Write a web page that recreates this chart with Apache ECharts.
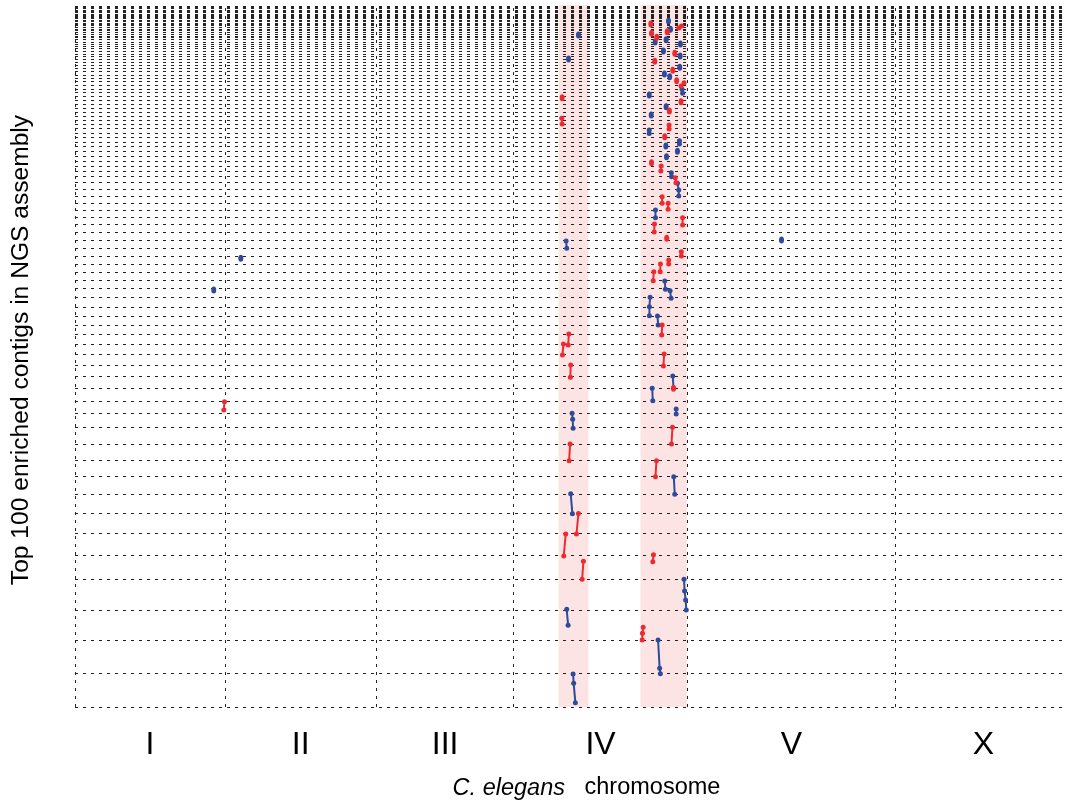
<!DOCTYPE html>
<html>
<head>
<meta charset="utf-8">
<script src="https://cdn.jsdelivr.net/npm/echarts@6/dist/echarts.min.js"></script>
<style>html,body{margin:0;padding:0;background:#fff}#chart{width:1065px;height:807px}</style>
</head>
<body>
<div id="chart"></div>
<script>
// Chromosomes (names and lengths in Mb)
const chromNames = ['I', 'II', 'III', 'IV', 'V', 'X'];
const chromLengthsMb = [15.07, 15.28, 13.78, 17.49, 20.92, 17.72];
// Cumulative contig boundaries (kb) for the 100 contigs, bottom to top
const contigBoundariesKb = [0, 34, 67, 97, 128, 152, 173.3, 193.7, 212.7, 230.3, 247, 263, 279.3, 293.7, 306, 318.3, 330.3, 341.7, 352.7, 362.5,
  372.3, 381.7, 391, 400, 409.3, 418.7, 427, 435, 442.3, 451, 458.3, 466.3, 474.3, 482.3, 489.3, 496.7, 503.7, 511, 518, 524.3,
  531, 536, 541, 546, 551, 555.7, 560.3, 565, 569.5, 574, 578.3, 582.5, 586.5, 590.3, 594.3, 598.3, 602.5, 606.5, 610.5, 614.3,
  618, 621.7, 625.3, 628.8, 632.2, 635.5, 638.7, 641.8, 644.8, 647.7, 650.5, 653.2, 655.8, 658.3, 660.7, 663, 665.2, 667.3, 669.3, 671.2,
  673, 674.8, 676.5, 678.2, 679.8, 681.3, 682.8, 684.2, 685.6, 687, 688.3, 689.6, 690.8, 692, 693.2, 694.4, 695.6, 697, 698.4, 699.8, 701.2];
// Highlighted genomic regions (Mb)
const highlightRegionsMb = [[48.64, 51.66], [56.89, 61.58]];
// Alignments: each segment is a list of [genome Mb, contig kb]
const redSegments = [
  [[15.04, 305.3], [14.97, 297]],
  [[49.01, 609.3]],
  [[48.97, 588.7], [49.01, 583]],
  [[49.68, 373], [49.62, 362]],
  [[49.14, 363], [49.04, 352]],
  [[49.87, 342], [49.84, 329.7]],
  [[49.81, 263], [49.71, 246.3]],
  [[50.65, 193.5], [50.45, 173]],
  [[49.37, 173], [49.17, 151]],
  [[51.15, 145.7], [51.02, 127.7]],
  [[57.93, 683]],
  [[58.0, 673.7]],
  [[58.53, 669.7]],
  [[59.58, 675.3]],
  [[60.75, 679], [61.02, 681]],
  [[60.34, 653.7]],
  [[58.33, 645.7]],
  [[60.14, 636.7]],
  [[60.53, 626.3]],
  [[61.27, 624.3], [60.97, 621]],
  [[60.97, 605.3]],
  [[59.8, 596]],
  [[59.77, 582], [59.77, 578]],
  [[59.33, 570.3]],
  [[58.0, 544.3]],
  [[58.98, 541], [58.94, 536]],
  [[60.39, 529.3], [60.46, 524.3]],
  [[59.07, 510.3], [59.07, 503.7]],
  [[59.67, 503.7], [59.67, 497.7]],
  [[61.13, 489.3], [61.13, 482]],
  [[58.3, 483], [58.27, 475]],
  [[59.53, 468.7]],
  [[61.0, 455.3], [61.0, 451]],
  [[59.73, 447], [59.73, 443]],
  [[58.9, 443], [58.87, 435.3]],
  [[58.23, 435.3], [58.17, 426.3]],
  [[59.07, 382], [59.03, 372]],
  [[59.27, 353], [59.2, 341]],
  [[60.21, 318.7]],
  [[60.11, 279.7], [60.01, 263]],
  [[58.5, 246.3], [58.4, 230.3]],
  [[58.2, 152.3], [58.13, 145.3]],
  [[57.16, 79.7], [57.09, 73.7], [57.06, 67]]
];
const blueSegments = [
  [[13.96, 417]],
  [[16.68, 448.7]],
  [[71.08, 467]],
  [[50.65, 672]],
  [[49.65, 648]],
  [[49.41, 466], [49.47, 458.7]],
  [[50.01, 293.7], [50.07, 287.7], [50.11, 278.7]],
  [[49.87, 213.3], [50.04, 193.3]],
  [[49.47, 97.7], [49.61, 81.7]],
  [[50.11, 33], [50.17, 23.7], [50.34, 4.3]],
  [[59.71, 686]],
  [[59.91, 677.7]],
  [[58.37, 665]],
  [[59.47, 667.3]],
  [[60.91, 663]],
  [[59.2, 656]],
  [[60.88, 651]],
  [[60.84, 639.7]],
  [[59.3, 633]],
  [[59.83, 630.3]],
  [[61.07, 617.7], [61.13, 613.7]],
  [[57.77, 612]],
  [[59.47, 600.3]],
  [[57.97, 592]],
  [[57.77, 577], [57.77, 573.5]],
  [[60.81, 566.3], [60.81, 563]],
  [[59.44, 561]],
  [[60.61, 555.7]],
  [[59.51, 550.3]],
  [[59.99, 534.3], [60.02, 530.3]],
  [[60.61, 523.7], [60.74, 517], [60.74, 511]],
  [[58.4, 497], [58.4, 489.3]],
  [[59.33, 426], [59.4, 417.7]],
  [[59.87, 416.3], [59.97, 408.7]],
  [[57.86, 409.7], [57.79, 400.3], [57.79, 391.3]],
  [[58.6, 391], [58.67, 382]],
  [[60.14, 331], [60.21, 318.7]],
  [[58.07, 318.7], [58.13, 306.3]],
  [[60.48, 298], [60.48, 293]],
  [[60.24, 230.3], [60.34, 212.7]],
  [[61.27, 127.7], [61.33, 116], [61.43, 107], [61.5, 97]],
  [[58.66, 67], [58.82, 38.7], [58.89, 33.3]]
];

const RED = '#ee2a30';
const BLUE = '#2d4b99';
const PINK = '#fce4e5';

const chromStarts = [];
let acc = 0;
chromLengthsMb.forEach(l => { chromStarts.push(acc); acc += l; });
const chromMids = chromStarts.map((s, i) => s + chromLengthsMb[i] / 2);
const boundaries = chromStarts.slice(1);
boundaries.unshift(0);

const X_MAX = 99.6;
const Y_MAX = 702;
const dash = { type: [3, 5], color: '#222', width: 1 };

const series = [];
series.push({
  type: 'line', data: [], silent: true, z: 1,
  markArea: {
    silent: true,
    itemStyle: { color: PINK },
    data: highlightRegionsMb.map(r => [{ xAxis: r[0], yAxis: 0 }, { xAxis: r[1], yAxis: Y_MAX }])
  }
});
series.push({
  type: 'line', data: [], silent: true, z: 2,
  markLine: {
    silent: true, symbol: ['none', 'none'], label: { show: false },
    lineStyle: dash, animation: false,
    data: contigBoundariesKb.map(v => ({ yAxis: v }))
      .concat(boundaries.map(v => [{ coord: [v, 0] }, { coord: [v, contigBoundariesKb[contigBoundariesKb.length - 1]] }]))
  }
});
function addSegs(segs, color) {
  segs.forEach(seg => {
    series.push({
      type: 'line', data: seg, z: 5, silent: true,
      showSymbol: true, symbol: 'circle',
      symbolSize: seg.length === 1 ? [5, 7] : 5,
      lineStyle: { color: color, width: 2 },
      itemStyle: { color: color }
    });
  });
}
addSegs(blueSegments, BLUE);
addSegs(redSegments, RED);

const chart = echarts.init(document.getElementById('chart'), null, { renderer: 'canvas' });
chart.setOption({
  animation: false,
  backgroundColor: '#fff',
  grid: { left: 75, right: 0, top: 5, bottom: 100 },
  xAxis: {
    type: 'value', min: 0, max: X_MAX,
    axisLine: { show: false }, axisTick: { show: false }, splitLine: { show: false },
    axisLabel: {
      show: true, customValues: chromMids, margin: 22,
      fontFamily: 'Liberation Sans', fontSize: 32, color: '#000',
      formatter: function (v) {
        let best = 0;
        chromMids.forEach((m, i) => { if (Math.abs(m - v) < Math.abs(chromMids[best] - v)) best = i; });
        return chromNames[best];
      }
    },
    name: '{i|C. elegans}   chromosome',
    nameLocation: 'middle', nameGap: 69,
    nameTextStyle: {
      fontFamily: 'Liberation Sans', fontSize: 23.5, color: '#000',
      padding: [0, 0, 0, 33],
      rich: { i: { fontFamily: 'Liberation Sans', fontSize: 23.5, fontStyle: 'italic', color: '#000' } }
    }
  },
  yAxis: {
    type: 'value', min: 0, max: Y_MAX,
    axisLine: { show: false }, axisTick: { show: false }, splitLine: { show: false },
    axisLabel: { show: false },
    name: 'Top 100 enriched contigs in NGS assembly',
    nameLocation: 'middle', nameGap: 41, nameRotate: 90,
    nameTextStyle: { fontFamily: 'Liberation Sans', fontSize: 24.6, color: '#000', padding: [0, 0, 0, 12] }
  },
  series: series
});
</script>
</body>
</html>
